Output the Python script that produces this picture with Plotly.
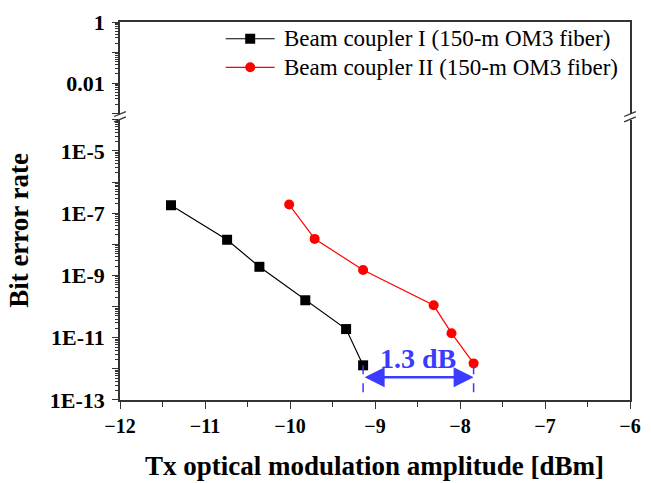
import plotly.graph_objects as go

# Measured BER versus Tx optical modulation amplitude
oma_coupler1 = [-11.40, -10.74, -10.36, -9.82, -9.34, -9.14]
ber_coupler1 = [1.8e-7, 1.4e-8, 1.9e-9, 1.6e-10, 1.9e-11, 1.3e-12]
oma_coupler2 = [-10.01, -9.71, -9.14, -8.31, -8.10, -7.84]
ber_coupler2 = [1.9e-7, 1.5e-8, 1.5e-9, 1.1e-10, 1.4e-11, 1.5e-12]

name1 = "Beam coupler I (150-m OM3 fiber)"
name2 = "Beam coupler II (150-m OM3 fiber)"
penalty_db = 1.3
penalty_label = "1.3 dB"

x_ticks = [-12, -11, -10, -9, -8, -7, -6]

# Broken log axis: lower part 1E-13..1E-4, upper part 1E-3..1
lower_exp = list(range(-13, -3))
upper_exp = list(range(-3, 1))
lower_labels = {-13: "1E-13", -11: "1E-11", -9: "1E-9", -7: "1E-7", -5: "1E-5"}
upper_labels = {-2: "0.01", 0: "1"}

SERIF = "Liberation Serif"
AX = "#333333"
BLUE = "#3b3bff"
RED = "#ff0000"

fig = go.Figure()
fig.add_trace(go.Scatter(
    x=oma_coupler1, y=ber_coupler1, name=name1, mode="lines+markers",
    line=dict(color="black", width=1.2),
    marker=dict(symbol="square", size=10, color="black"),
    xaxis="x", yaxis="y", showlegend=False))
fig.add_trace(go.Scatter(
    x=oma_coupler2, y=ber_coupler2, name=name2, mode="lines+markers",
    line=dict(color=RED, width=1.2),
    marker=dict(symbol="circle", size=10, color=RED),
    xaxis="x", yaxis="y", showlegend=False))
# empty trace so the upper (1E-3..1) panel is drawn
fig.add_trace(go.Scatter(x=[None], y=[None], xaxis="x2", yaxis="y2",
                         showlegend=False, hoverinfo="skip"))

tickfont_x = dict(family=SERIF, size=20, color="black", weight="bold")
tickfont_y = dict(family=SERIF, size=22, color="black", weight="bold")


def minor_vals(exps):
    return [k * 10.0 ** e for e in exps[:-1] for k in range(2, 10)]


L_TOP = 115.4  # pixel row of the lower panel top
U_BOT = 109.0  # pixel row of the upper panel bottom
PLOT_L, PLOT_R = 120, 641
PLOT_T, PLOT_B = 16, 400
W = PLOT_R - PLOT_L
H = PLOT_B - PLOT_T

yaxis_common = dict(
    type="log", tickmode="array", ticks="outside", ticklen=6, tickwidth=1.3,
    tickcolor=AX, showline=True, mirror=True, linecolor=AX, linewidth=1.5,
    showgrid=False, zeroline=False, tickfont=tickfont_y, ticklabelstandoff=3)

fig.update_layout(
    width=651, height=483,
    margin=dict(l=PLOT_L, r=651 - PLOT_R, t=PLOT_T, b=483 - PLOT_B),
    paper_bgcolor="white", plot_bgcolor="white",
    showlegend=False,
    xaxis=dict(range=[-12, -6], tickvals=x_ticks, ticks="outside", ticklen=7,
               tickwidth=1.3, tickcolor=AX, showline=True, linecolor=AX,
               linewidth=1.5, showgrid=False, zeroline=False, anchor="y",
               tickfont=tickfont_x,
               minor=dict(dtick=0.5, ticks="outside", ticklen=5,
                          tickcolor=AX, tickwidth=1.3, showgrid=False)),
    xaxis2=dict(range=[-12, -6], side="top", anchor="y2", matches="x",
                showline=True, linecolor=AX, linewidth=1.5, ticks="",
                showticklabels=False, showgrid=False, zeroline=False),
    yaxis=dict(range=[-13, -4], domain=[0, (PLOT_B - L_TOP) / H],
               tickvals=[10.0 ** e for e in lower_exp],
               ticktext=[lower_labels.get(e, "") for e in lower_exp],
               minor=dict(tickmode="array", tickvals=minor_vals(lower_exp),
                          ticks="outside", ticklen=3, tickcolor=AX,
                          tickwidth=1, showgrid=False),
               **yaxis_common),
    yaxis2=dict(range=[-3, 0], domain=[(PLOT_B - U_BOT) / H, 1], anchor="x2",
                tickvals=[10.0 ** e for e in upper_exp],
                ticktext=[upper_labels.get(e, "") for e in upper_exp],
                minor=dict(tickmode="array", tickvals=minor_vals(upper_exp),
                           ticks="outside", ticklen=3, tickcolor=AX,
                           tickwidth=1, showgrid=False),
                **yaxis_common),
)


def px_x(px):
    return (px - PLOT_L) / W


def px_y(py):
    return (PLOT_B - py) / H


shapes = []
# Axis break marks on both sides of the frame
for cx in (PLOT_L, PLOT_R):
    for cy in (U_BOT + 0.5, L_TOP - 0.5):
        shapes.append(dict(type="line", xref="paper", yref="paper",
                           x0=px_x(cx - 6), y0=px_y(cy + 2.5),
                           x1=px_x(cx + 6), y1=px_y(cy - 2.5),
                           line=dict(color=AX, width=1.3)))

# Dashed guides at the two lowest-BER points
x_start = oma_coupler1[-1]
x_end = x_start + penalty_db
guide_lo, guide_hi = 10 ** -12.75, 10 ** -11.85
for xv in (x_start, x_end):
    shapes.append(dict(type="line", xref="x", yref="y", x0=xv, x1=xv,
                       y0=guide_lo, y1=guide_hi,
                       line=dict(color=BLUE, width=1.5, dash="dash")))

# Legend drawn in the upper panel
legend_rows = [(name1, "black", "rect", 33), (name2, RED, "circle", 62)]
for label, color, sym, row in legend_rows:
    shapes.append(dict(type="line", xref="paper", yref="paper",
                       x0=px_x(228), x1=px_x(278), y0=px_y(row), y1=px_y(row),
                       line=dict(color=color, width=1.2)))
    shapes.append(dict(type=sym, xref="paper", yref="paper",
                       xsizemode="pixel", ysizemode="pixel",
                       xanchor=px_x(253), yanchor=px_y(row),
                       x0=-5, x1=5, y0=-5, y1=5,
                       fillcolor=color, line=dict(color=color, width=0)))
    fig.add_annotation(x=px_x(285), y=px_y(row), xref="paper", yref="paper",
                       text=label, showarrow=False, xanchor="left",
                       yanchor="middle",
                       font=dict(family=SERIF, size=23, color="black"))
fig.update_layout(shapes=shapes)

arrow_y = -12.27
fig.add_annotation(x=x_end, y=arrow_y, ax=x_start, ay=arrow_y,
                   xref="x", yref="y", axref="x", ayref="y",
                   text="", showarrow=True, arrowhead=2, arrowside="end+start",
                   arrowsize=1.6, arrowwidth=2.5, arrowcolor=BLUE)
fig.add_annotation(x=(x_start + x_end) / 2, y=-11.66, xref="x", yref="y",
                   text=penalty_label, showarrow=False,
                   font=dict(family=SERIF, size=28, color=BLUE, weight="bold"))

# Axis titles
fig.add_annotation(x=px_x(17), y=px_y(228), xref="paper", yref="paper",
                   text="Bit error rate", textangle=-90, showarrow=False,
                   xanchor="center", yanchor="middle",
                   font=dict(family=SERIF, size=27, color="black", weight="bold"))
fig.add_annotation(x=px_x(380), y=px_y(467), xref="paper", yref="paper",
                   text="Tx optical modulation amplitude [dBm]", showarrow=False,
                   xanchor="center", yanchor="middle",
                   font=dict(family=SERIF, size=27, color="black", weight="bold"))

fig.write_html("out.html")
